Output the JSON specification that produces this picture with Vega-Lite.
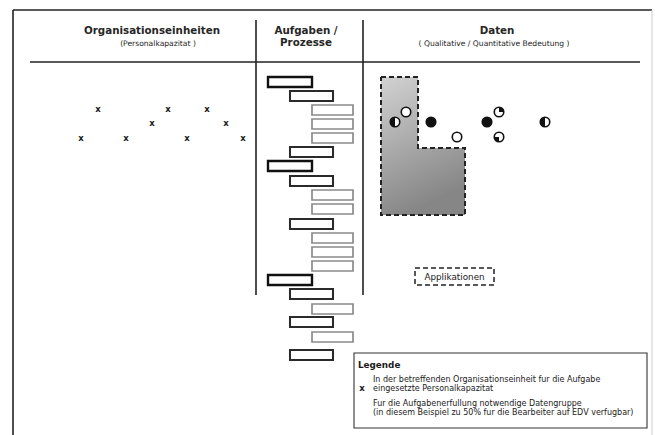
{
  "$schema": "https://vega.github.io/schema/vega-lite/v6.json",
  "width": 655,
  "height": 435,
  "autosize": {"type": "none"},
  "padding": 0,
  "background": "white",
  "config": {"view": {"stroke": null}, "text": {"font": "DejaVu Sans", "color": "#1a1a1a"}},
  "encoding": {
    "x": {"field": "x", "type": "quantitative", "scale": {"domain": [0, 655], "nice": false, "zero": false}, "axis": null},
    "y": {"field": "y", "type": "quantitative", "scale": {"domain": [0, 435], "reverse": true, "nice": false, "zero": false}, "axis": null}
  },
  "layer": [
    {
      "data": {"values": [
        {"x": 13, "x2": 652, "y": 10, "y2": 10},
        {"x": 13, "x2": 13, "y": 10, "y2": 435},
        {"x": 30, "x2": 640, "y": 62, "y2": 62},
        {"x": 256, "x2": 256, "y": 20, "y2": 295},
        {"x": 363, "x2": 363, "y": 20, "y2": 295}
      ]},
      "mark": {"type": "rule", "color": "#222", "strokeWidth": 1.6},
      "encoding": {"x2": {"field": "x2"}, "y2": {"field": "y2"}}
    },
    {
      "data": {"values": [{"x": 652, "x2": 652, "y": 10, "y2": 435}]},
      "mark": {"type": "rule", "color": "#cfcfcf", "strokeWidth": 1},
      "encoding": {"x2": {"field": "x2"}, "y2": {"field": "y2"}}
    },
    {
      "data": {"values": [
        {"x": 152, "y": 31, "t": "Organisationseinheiten"},
        {"x": 306, "y": 31, "t": "Aufgaben /"},
        {"x": 306, "y": 43, "t": "Prozesse"},
        {"x": 497, "y": 31, "t": "Daten"}
      ]},
      "mark": {"type": "text", "fontSize": 10.3, "fontWeight": "bold", "align": "center", "baseline": "middle", "color": "#262626"},
      "encoding": {"text": {"field": "t"}}
    },
    {
      "data": {"values": [
        {"x": 158, "y": 43.5, "t": "(Personalkapazitat )"},
        {"x": 494, "y": 43.5, "t": "( Qualitative / Quantitative Bedeutung )"}
      ]},
      "mark": {"type": "text", "fontSize": 7.6, "align": "center", "baseline": "middle"},
      "encoding": {"text": {"field": "t"}}
    },
    {
      "data": {"values": [
        {"x": 98, "y": 109}, {"x": 168, "y": 109}, {"x": 207, "y": 109},
        {"x": 152, "y": 123}, {"x": 226, "y": 123},
        {"x": 81, "y": 138}, {"x": 126, "y": 138}, {"x": 187, "y": 138}, {"x": 243, "y": 138}
      ]},
      "mark": {"type": "text", "text": "x", "fontSize": 8.5, "fontWeight": "bold", "align": "center", "baseline": "middle"}
    },
    {
      "data": {"values": [
        {"lvl": "1", "x": 268, "x2": 312, "y": 77, "y2": 87},
        {"lvl": "2", "x": 290, "x2": 333, "y": 91, "y2": 101},
        {"lvl": "3", "x": 312, "x2": 353, "y": 105, "y2": 115},
        {"lvl": "3", "x": 312, "x2": 353, "y": 119, "y2": 129},
        {"lvl": "3", "x": 312, "x2": 353, "y": 133, "y2": 143},
        {"lvl": "2", "x": 290, "x2": 333, "y": 147, "y2": 157},
        {"lvl": "1", "x": 268, "x2": 312, "y": 161, "y2": 171},
        {"lvl": "2", "x": 290, "x2": 333, "y": 176, "y2": 186},
        {"lvl": "3", "x": 312, "x2": 353, "y": 190, "y2": 200},
        {"lvl": "3", "x": 312, "x2": 353, "y": 204, "y2": 214},
        {"lvl": "2", "x": 290, "x2": 333, "y": 219, "y2": 229},
        {"lvl": "3", "x": 312, "x2": 353, "y": 233, "y2": 243},
        {"lvl": "3", "x": 312, "x2": 353, "y": 247, "y2": 257},
        {"lvl": "3", "x": 312, "x2": 353, "y": 261, "y2": 271},
        {"lvl": "1", "x": 268, "x2": 312, "y": 275, "y2": 285},
        {"lvl": "2", "x": 290, "x2": 333, "y": 289, "y2": 299},
        {"lvl": "3", "x": 312, "x2": 353, "y": 304, "y2": 314},
        {"lvl": "2", "x": 290, "x2": 333, "y": 317, "y2": 327},
        {"lvl": "3", "x": 312, "x2": 353, "y": 332, "y2": 342},
        {"lvl": "2", "x": 290, "x2": 333, "y": 350, "y2": 360}
      ]},
      "mark": {"type": "rect", "fill": "white"},
      "encoding": {
        "x2": {"field": "x2"},
        "y2": {"field": "y2"},
        "stroke": {"field": "lvl", "type": "nominal", "scale": {"domain": ["1", "2", "3"], "range": ["#111", "#2a2a2a", "#8a8a8a"]}, "legend": null},
        "strokeWidth": {"field": "lvl", "type": "nominal", "scale": {"domain": ["1", "2", "3"], "range": [2.4, 1.7, 1.1]}, "legend": null}
      }
    },
    {
      "data": {"values": [
        {"x": 381, "y": 77, "y2": 215},
        {"x": 418, "y": 77, "y2": 215},
        {"x": 418.01, "y": 148, "y2": 215},
        {"x": 465, "y": 148, "y2": 215}
      ]},
      "mark": {"type": "area", "fill": {"gradient": "linear", "x1": 0, "y1": 0, "x2": 0.3, "y2": 1, "stops": [{"offset": 0, "color": "#d2d2d2"}, {"offset": 0.55, "color": "#a8a8a8"}, {"offset": 1, "color": "#868686"}]}},
      "encoding": {"y2": {"field": "y2"}}
    },
    {
      "data": {"values": [
        {"o": 1, "x": 381, "y": 77}, {"o": 2, "x": 418, "y": 77}, {"o": 3, "x": 418, "y": 148},
        {"o": 4, "x": 465, "y": 148}, {"o": 5, "x": 465, "y": 215}, {"o": 6, "x": 381, "y": 215}, {"o": 7, "x": 381, "y": 77}
      ]},
      "mark": {"type": "line", "color": "#222", "strokeWidth": 2, "strokeDash": [5, 3]},
      "encoding": {"order": {"field": "o", "type": "quantitative"}}
    },
    {
      "data": {"values": [
        {"x": 406, "y": 112}, {"x": 457, "y": 137}, {"x": 431, "y": 122}, {"x": 487, "y": 122},
        {"x": 395, "y": 122}, {"x": 545, "y": 122}, {"x": 499, "y": 112}, {"x": 499, "y": 137},
        {"x": 361, "y": 410}
      ]},
      "mark": {"type": "point", "shape": "circle", "filled": true, "fill": "white", "stroke": "#111", "strokeWidth": 1.6, "size": 90, "opacity": 1}
    },
    {
      "data": {"values": [
        {"x": 431, "y": 122, "p": "full"}, {"x": 487, "y": 122, "p": "full"},
        {"x": 395, "y": 122, "p": "left"}, {"x": 545, "y": 122, "p": "left"},
        {"x": 499, "y": 112, "p": "ur"}, {"x": 499, "y": 137, "p": "ll"},
        {"x": 361, "y": 410, "p": "left"}
      ]},
      "mark": {"type": "point", "filled": true, "color": "#111", "size": 90, "opacity": 1, "strokeWidth": 0},
      "encoding": {
        "shape": {"field": "p", "type": "nominal", "legend": null, "scale": {"domain": ["full", "left", "ur", "ll"], "range": ["circle", "M0,-1A1,1 0 0,0 0,1Z", "M0,0L0,-1A1,1 0 0,1 1,0Z", "M0,0L0,1A1,1 0 0,1 -1,0Z"]}}
      }
    },
    {
      "data": {"values": [{"x": 415, "x2": 494, "y": 268, "y2": 285}]},
      "mark": {"type": "rect", "fill": null, "stroke": "#222", "strokeWidth": 1.5, "strokeDash": [5, 3]},
      "encoding": {"x2": {"field": "x2"}, "y2": {"field": "y2"}}
    },
    {
      "data": {"values": [{"x": 454.5, "y": 277, "t": "Applikationen"}]},
      "mark": {"type": "text", "fontSize": 8.8, "align": "center", "baseline": "middle"},
      "encoding": {"text": {"field": "t"}}
    },
    {
      "data": {"values": [{"x": 354, "x2": 647, "y": 353, "y2": 428}]},
      "mark": {"type": "rect", "fill": "white", "stroke": "#333", "strokeWidth": 1.1},
      "encoding": {"x2": {"field": "x2"}, "y2": {"field": "y2"}}
    },
    {
      "data": {"values": [{"x": 358, "y": 365, "t": "Legende"}]},
      "mark": {"type": "text", "fontSize": 8.8, "fontWeight": "bold", "align": "left", "baseline": "middle"},
      "encoding": {"text": {"field": "t"}}
    },
    {
      "data": {"values": [{"x": 362, "y": 388}]},
      "mark": {"type": "text", "text": "x", "fontSize": 8.5, "fontWeight": "bold", "align": "center", "baseline": "middle"}
    },
    {
      "data": {"values": [
        {"x": 373, "y": 380, "t": "In der betreffenden Organisationseinheit fur die Aufgabe"},
        {"x": 373, "y": 388.5, "t": "eingesetzte Personalkapazitat"},
        {"x": 373, "y": 404, "t": "Fur die Aufgabenerfullung notwendige Datengruppe"},
        {"x": 373, "y": 412.5, "t": "(in diesem Beispiel zu 50% fur die Bearbeiter auf EDV verfugbar)"}
      ]},
      "mark": {"type": "text", "fontSize": 8, "align": "left", "baseline": "middle"},
      "encoding": {"text": {"field": "t"}}
    }
  ]
}
